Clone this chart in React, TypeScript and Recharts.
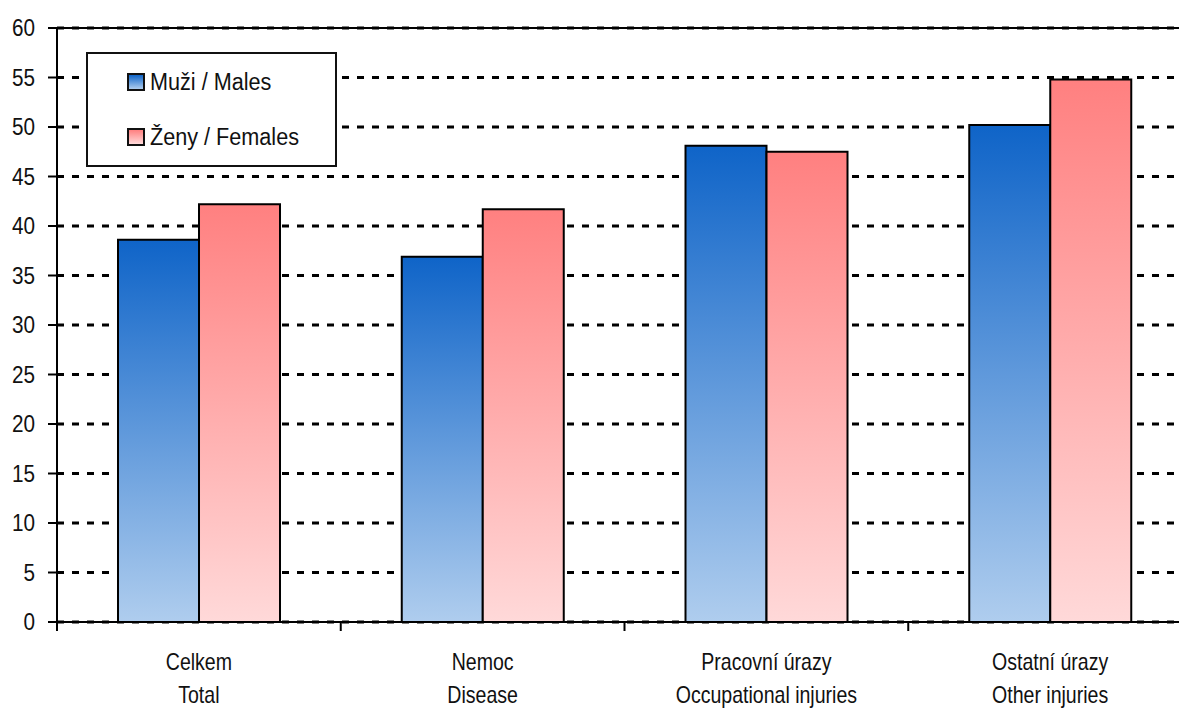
import React from 'react';
import { BarChart, Bar, XAxis, YAxis, CartesianGrid, ReferenceLine, Legend } from 'recharts';

const categoriesCz = ['Celkem', 'Nemoc', 'Pracovní úrazy', 'Ostatní úrazy'];
const categoriesEn = ['Total', 'Disease', 'Occupational injuries', 'Other injuries'];
const males = [38.6, 36.9, 48.1, 50.2];
const females = [42.2, 41.7, 47.5, 54.8];
const yTicks = [0, 5, 10, 15, 20, 25, 30, 35, 40, 45, 50, 55, 60];
const seriesNames = ['Muži / Males', 'Ženy / Females'];

const data = categoriesCz.map((c, i) => ({
  name: c,
  en: categoriesEn[i],
  males: males[i],
  females: females[i],
}));

const FONT = '"Liberation Sans", Arial, sans-serif';
const CHART_W = 1200;
const MARGIN = { top: 28, right: 8, left: 0, bottom: 0 };
const YAXIS_W = 57;
const PLOT_W = CHART_W - MARGIN.left - MARGIN.right - YAXIS_W;
const BAND = PLOT_W / categoriesCz.length;

const XTick = (props: any) => {
  const { x, y, payload, index } = props;
  const d = data[index] || data.find((r) => r.name === payload.value);
  const left = x - BAND / 2;
  return (
    <g>
      <line x1={left} x2={left} y1={y} y2={y + 9} stroke="#000" strokeWidth={2} />
      <g transform={`translate(${x},${y + 48}) scale(0.85,1)`}>
        <text x={0} y={0} textAnchor="middle" fontFamily={FONT} fontSize={23} fill="#111">
          {payload.value}
        </text>
      </g>
      <g transform={`translate(${x},${y + 81}) scale(0.85,1)`}>
        <text x={0} y={0} textAnchor="middle" fontFamily={FONT} fontSize={23} fill="#111">
          {d ? d.en : ''}
        </text>
      </g>
    </g>
  );
};

const YTick = (props: any) => {
  const { x, y, payload } = props;
  return (
    <g transform={`translate(${x},${y}) scale(0.9,1)`}>
      <text x={0} y={0} dy="0.36em" textAnchor="end" fontFamily={FONT} fontSize={23} fill="#111">
        {payload.value}
      </text>
    </g>
  );
};

const LegendBox = () => (
  <div
    style={{
      width: 247,
      height: 111,
      border: '2px solid #111',
      background: '#fff',
      fontFamily: FONT,
      fontSize: 23,
      color: '#111',
      position: 'relative',
      boxSizing: 'content-box',
    }}
  >
    {seriesNames.map((n, i) => (
      <div key={n} style={{ position: 'absolute', left: 39, top: i === 0 ? 17 : 72, display: 'flex', alignItems: 'center', whiteSpace: 'nowrap' }}>
        <div
          style={{
            width: 14,
            height: 14,
            border: '2px solid #111',
            background:
              i === 0
                ? 'linear-gradient(#0F64C8, #AFCDEE)'
                : 'linear-gradient(#FF8080, #FFD9D9)',
            marginRight: 5,
            flex: 'none',
          }}
        />
        <span style={{ lineHeight: '22px', display: 'inline-block', transform: 'scaleX(0.94)', transformOrigin: 'left center' }}>{n}</span>
      </div>
    ))}
  </div>
);

export default function App() {
  return (
    <div style={{ position: 'absolute', left: 0, top: 0, width: 1179, height: 711, overflow: 'hidden', background: '#fff' }}>
      <BarChart
        width={CHART_W}
        height={711}
        data={data}
        margin={MARGIN}
        barCategoryGap="21.5%"
        barGap={0}
      >
        <defs>
          <linearGradient id="gMale" x1="0" y1="0" x2="0" y2="1">
            <stop offset="0%" stopColor="#0F64C8" />
            <stop offset="100%" stopColor="#AFCDEE" />
          </linearGradient>
          <linearGradient id="gFemale" x1="0" y1="0" x2="0" y2="1">
            <stop offset="0%" stopColor="#FF8080" />
            <stop offset="100%" stopColor="#FFD9D9" />
          </linearGradient>
        </defs>
        <CartesianGrid vertical={false} stroke="#000" strokeWidth={3} strokeDasharray="7 8" />
        <YAxis
          width={YAXIS_W}
          domain={[0, 60]}
          ticks={yTicks}
          interval={0}
          tickSize={9}
          tickMargin={13}
          axisLine={{ stroke: '#000', strokeWidth: 2 }}
          tickLine={{ stroke: '#000', strokeWidth: 2 }}
          tick={<YTick />}
        />
        <XAxis
          dataKey="name"
          height={89}
          interval={0}
          tickSize={0}
          tickMargin={0}
          axisLine={{ stroke: '#000', strokeWidth: 2 }}
          tickLine={false}
          tick={<XTick />}
        />
        <ReferenceLine y={60} stroke="#000" strokeWidth={2} />
        <Legend
          content={<LegendBox />}
          layout="vertical"
          verticalAlign="middle"
          align="center"
          wrapperStyle={{ position: 'absolute', left: 86, top: 52, width: 251, height: 115 }}
        />
        <Bar dataKey="males" name={seriesNames[0]} fill="url(#gMale)" stroke="#000" strokeWidth={2} isAnimationActive={false} />
        <Bar dataKey="females" name={seriesNames[1]} fill="url(#gFemale)" stroke="#000" strokeWidth={2} isAnimationActive={false} />
      </BarChart>
    </div>
  );
}
